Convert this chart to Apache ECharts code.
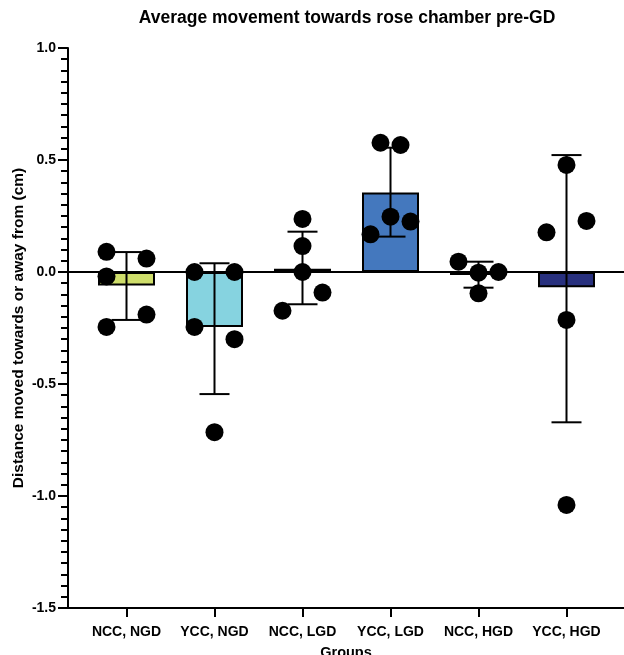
<!DOCTYPE html>
<html><head><meta charset="utf-8">
<script src="https://cdn.jsdelivr.net/npm/echarts@6/dist/echarts.min.js"></script>
<style>html,body{margin:0;padding:0;background:#fff}#c{width:624px;height:655px}</style>
</head><body><div id="c"></div>
<script>
// ---- data ----
const groups = ['NCC, NGD', 'YCC, NGD', 'NCC, LGD', 'YCC, LGD', 'NCC, HGD', 'YCC, HGD'];
const barMeans = [-0.06, -0.245, 0.015, 0.355, -0.013, -0.068];
const errHigh = [0.089, 0.039, 0.18, 0.555, 0.046, 0.522];
const errLow = [-0.214, -0.545, -0.144, 0.158, -0.07, -0.671];
const ptsNccNgd = [0.09, -0.02, -0.245, 0.06, -0.19];
const ptsYccNgd = [0.0, 0.0, -0.245, -0.30, -0.715];
const ptsNccLgd = [0.237, 0.116, 0.0, -0.092, -0.173];
const ptsYccLgd = [0.577, 0.567, 0.247, 0.225, 0.168];
const ptsNccHgd = [0.046, -0.003, 0.0, -0.095];
const ptsYccHgd = [0.478, 0.228, 0.177, -0.214, -1.04];
const yTickValues = [-1.5, -1.0, -0.5, 0.0, 0.5, 1.0];
const yTickLabels = ['-1.5', '-1.0', '-0.5', '0.0', '0.5', '1.0'];
const titleText = 'Average movement towards rose chamber pre-GD';
const yAxisTitle = 'Distance moved towards or away from (cm)';
const xAxisTitle = 'Groups';

// ---- styling / layout ----
const barColors = ['#cfde6b', '#86d3e0', '#2f5d3a', '#4478be', '#d9a0c0', '#28307e'];
const jitterPx = [
  [-20, -20, -20, 20, 20],
  [-20, 20, -20, 20, 0],
  [0, 0, 0, 20, -20],
  [-10, 10, 0, 20, -20],
  [-20, 0, 20, 0],
  [0, 20, -20, 0, 0]
];
const FONT = '"Liberation Sans", Arial, sans-serif';
const allPts = [ptsNccNgd, ptsYccNgd, ptsNccLgd, ptsYccLgd, ptsNccHgd, ptsYccHgd];
const dotData = [];
allPts.forEach((arr, g) => arr.forEach((v, k) => dotData.push([g, v, k])));
const errData = groups.map((_, g) => [g, errLow[g], errHigh[g]]);

const chart = echarts.init(document.getElementById('c'), null, {renderer: 'canvas'});
const gridTop = 48, gridH = 560;
chart.setOption({
  animation: false,
  backgroundColor: '#fff',
  textStyle: {fontFamily: FONT},
  graphic: [{
    type: 'text', x: 347, y: 18,
    style: {text: titleText, textAlign: 'center', textVerticalAlign: 'middle',
      font: 'bold 17.5px ' + FONT, fill: '#000'}
  }],
  grid: [
    {left: 82.5, top: gridTop, width: 528, height: gridH, outerBoundsMode: 'none', containLabel: false},
    {left: 68, top: gridTop, width: 556, height: gridH, outerBoundsMode: 'none', containLabel: false},
    {left: 68, top: gridTop, width: 556, height: gridH, outerBoundsMode: 'none', containLabel: false}
  ],
  xAxis: [
    {type: 'category', gridIndex: 0, data: groups, boundaryGap: true,
      axisLine: {show: false, onZero: false},
      axisTick: {show: true, alignWithLabel: true, length: 9, lineStyle: {color: '#000', width: 2}},
      axisLabel: {color: '#000', fontWeight: 'bold', fontSize: 14, fontFamily: FONT, margin: 17, interval: 0},
      splitLine: {show: false}},
    {type: 'value', gridIndex: 1, min: 0, max: 1,
      axisLine: {show: true, onZero: false, lineStyle: {color: '#000', width: 2}},
      axisTick: {show: false}, axisLabel: {show: false}, splitLine: {show: false},
      name: xAxisTitle, nameLocation: 'middle', nameGap: 37, nameMoveOverlap: false,
      nameTextStyle: {color: '#000', fontWeight: 'bold', fontSize: 14.5, fontFamily: FONT}},
    {type: 'value', gridIndex: 2, min: 0, max: 1,
      axisLine: {show: true, onZero: true, lineStyle: {color: '#000', width: 2}},
      axisTick: {show: false}, axisLabel: {show: false}, splitLine: {show: false}}
  ],
  yAxis: [
    {type: 'value', gridIndex: 0, min: -1.5, max: 1, interval: 0.5, offset: 14.5,
      axisLine: {show: true, lineStyle: {color: '#000', width: 2}},
      axisTick: {show: true, length: 10, lineStyle: {color: '#000', width: 2}},
      minorTick: {show: true, splitNumber: 10, length: 7, lineStyle: {color: '#000', width: 2}},
      splitLine: {show: false},
      axisLabel: {color: '#000', fontWeight: 'bold', fontSize: 14, fontFamily: FONT, margin: 12,
        formatter: v => { const i = yTickValues.findIndex(t => Math.abs(t - v) < 1e-9); return i >= 0 ? yTickLabels[i] : ''; }},
      name: yAxisTitle, nameLocation: 'middle', nameGap: 41, nameMoveOverlap: false,
      nameTextStyle: {color: '#000', fontWeight: 'bold', fontSize: 15.5, fontFamily: FONT}},
    {type: 'value', gridIndex: 1, min: -1.5, max: 1, show: false},
    {type: 'value', gridIndex: 2, min: -1.5, max: 1, show: false}
  ],
  series: [
    {type: 'bar', xAxisIndex: 0, yAxisIndex: 0, barWidth: 57, z: 3,
      data: barMeans.map((v, g) => ({value: v, itemStyle: {color: barColors[g]}})),
      itemStyle: {borderColor: '#000', borderWidth: 2}},
    {type: 'custom', xAxisIndex: 0, yAxisIndex: 0, z: 4, data: errData,
      renderItem: (params, api) => {
        const g = api.value(0);
        const lo = api.coord([g, api.value(1)]);
        const hi = api.coord([g, api.value(2)]);
        const x = lo[0], cap = 15;
        const st = {stroke: '#000', lineWidth: 2};
        return {type: 'group', children: [
          {type: 'line', shape: {x1: x, y1: hi[1], x2: x, y2: lo[1]}, style: st},
          {type: 'line', shape: {x1: x - cap, y1: hi[1], x2: x + cap, y2: hi[1]}, style: st},
          {type: 'line', shape: {x1: x - cap, y1: lo[1], x2: x + cap, y2: lo[1]}, style: st}
        ]};
      }},
    {type: 'custom', xAxisIndex: 0, yAxisIndex: 0, z: 5, data: dotData,
      renderItem: (params, api) => {
        const g = api.value(0), k = api.value(2);
        const p = api.coord([g, api.value(1)]);
        return {type: 'circle', shape: {cx: p[0] + jitterPx[g][k], cy: p[1], r: 9},
          style: {fill: '#000'}};
      }}
  ]
});
</script>
</body></html>
